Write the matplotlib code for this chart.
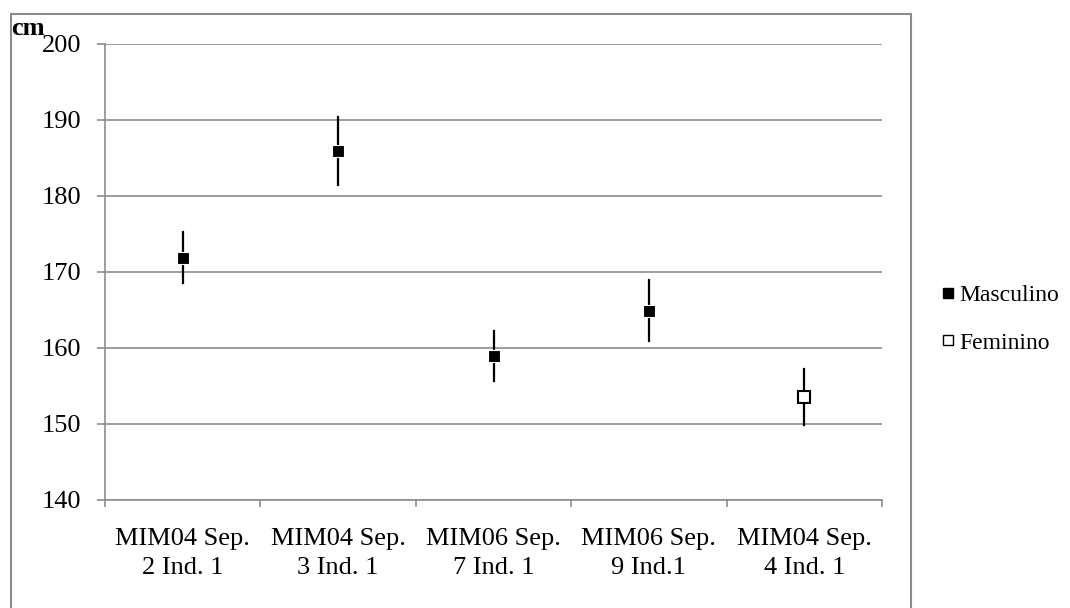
import matplotlib.pyplot as plt
from matplotlib.patches import Rectangle
from matplotlib.lines import Line2D

# estatura estimada (cm) por indivíduo
labels = ['MIM04 Sep.\n2 Ind. 1', 'MIM04 Sep.\n3 Ind. 1', 'MIM06 Sep.\n7 Ind. 1',
          'MIM06 Sep.\n9 Ind.1', 'MIM04 Sep.\n4 Ind. 1']
estatura = [171.9, 185.9, 158.9, 164.9, 153.6]
erro = [3.4, 4.5, 3.3, 4.0, 3.7]
sexo = ['M', 'M', 'M', 'M', 'F']

plt.rcParams['font.family'] = ['Liberation Serif', 'DejaVu Serif']

W, H = 1070, 608
fig = plt.figure(figsize=(W / 100, H / 100), dpi=100)
ax = fig.add_axes([105 / W, 1 - 500 / H, (882 - 105) / W, (500 - 44) / H])

# moldura externa do gráfico
fig.patches.append(Rectangle((11 / W, -0.05), 900 / W, 1.05 - 14 / H,
                             transform=fig.transFigure, fill=False,
                             edgecolor='#8c8c8c', linewidth=1.5))

for i, (y, e, s) in enumerate(zip(estatura, erro, sexo)):
    ax.plot([i, i], [y - e, y + e], color='black', linewidth=1.6, zorder=3)
    fc = 'black' if s == 'M' else 'white'
    ax.plot(i, y, marker='s', markersize=8.5, markerfacecolor=fc,
            markeredgecolor='black' if s == 'F' else 'white',
            markeredgewidth=1.5 if s == 'F' else 0.8, zorder=4, linestyle='none')

ax.set_xlim(-0.5, len(labels) - 0.5)
ax.set_ylim(140, 200)
ax.set_yticks(range(140, 201, 10))
ax.set_xticks([i + 0.5 for i in range(-1, len(labels))])
ax.set_xticklabels([])
ax.set_xticks(range(len(labels)), minor=True)
ax.set_xticklabels(labels, minor=True, fontsize=19, linespacing=1.45)
ax.tick_params(axis='x', which='major', length=5, color='#8c8c8c', width=1.2)
ax.tick_params(axis='x', which='minor', length=0, pad=20)
ax.tick_params(axis='y', length=5.8, color='#8c8c8c', width=1.2, labelsize=19, pad=11)

ax.grid(axis='y', color='#8c8c8c', linewidth=1.2)
ax.set_axisbelow(True)
for side in ['top', 'right']:
    ax.spines[side].set_visible(False)
for side in ['left', 'bottom']:
    ax.spines[side].set_color('#8c8c8c')
    ax.spines[side].set_linewidth(1.2)

fig.text(11 / W, 1 - 35 / H, 'cm', fontsize=19, fontweight='bold', va='baseline', ha='left')

handles = [Line2D([], [], marker='s', linestyle='none', markersize=7.5,
                  markerfacecolor='black', markeredgecolor='black'),
           Line2D([], [], marker='s', linestyle='none', markersize=7.5,
                  markerfacecolor='white', markeredgecolor='black', markeredgewidth=1)]
fig.legend(handles, ['Masculino', 'Feminino'], loc='center left',
           bbox_to_anchor=(929 / W, 1 - 319 / H), frameon=False, fontsize=17,
           handlelength=0.6, handletextpad=0.2, labelspacing=1.1, borderpad=0)

fig.savefig('out.png', dpi=100)
